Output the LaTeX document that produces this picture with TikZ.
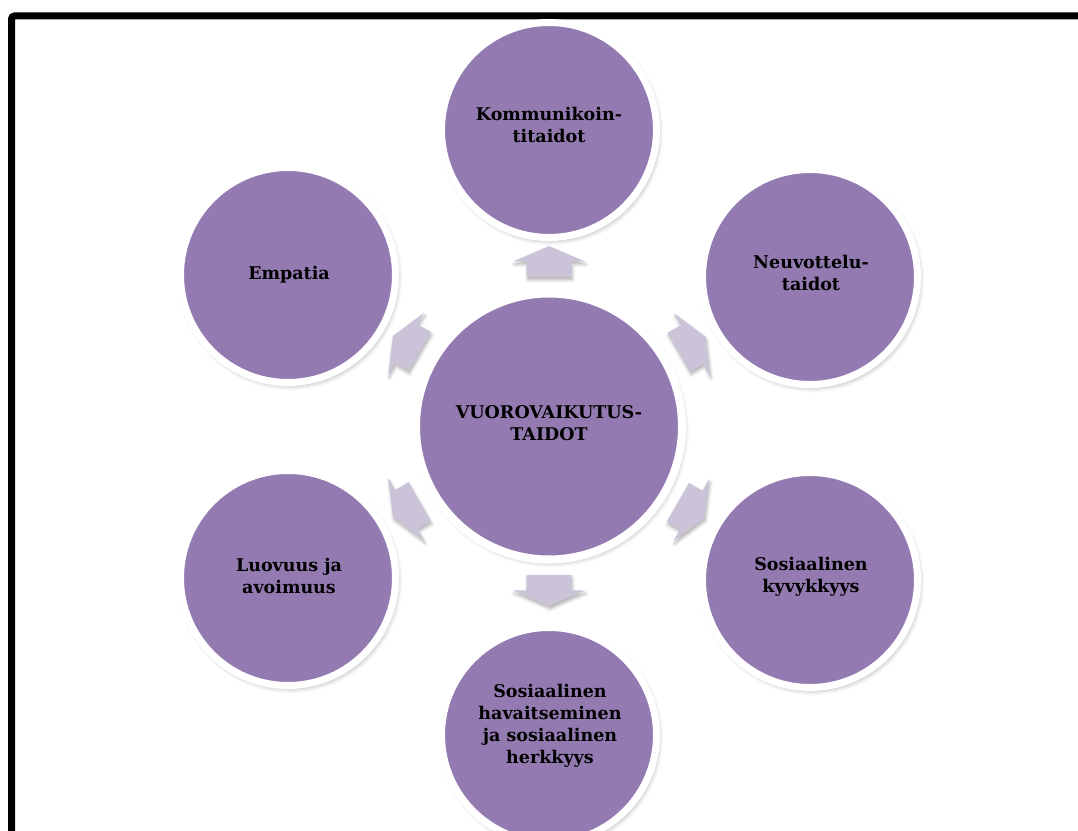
\documentclass[tikz,border=0pt]{standalone}
\usepackage{fontspec}
\setmainfont{DejaVu Serif}
\usetikzlibrary{shadows.blur,calc,backgrounds}
\definecolor{circfill}{HTML}{937AB1}
\definecolor{arrfill}{HTML}{CBC4D9}
\tikzset{
  ring/.style={circle, draw=white, line width=7pt, fill=circfill, inner sep=0pt,
    minimum size=215pt,
    blur shadow={shadow xshift=2pt, shadow yshift=-3pt, shadow blur radius=5pt, shadow opacity=35}},
  bigring/.style={ring, line width=8pt, minimum size=266pt},
  lbl/.style={align=center, font=\fontsize{17.5}{22}\selectfont\bfseries, text=black},
  pics/blockarrow/.style={code={
    \fill[arrfill, blur shadow={shadow xshift=1pt, shadow yshift=-3pt, shadow blur radius=3pt, shadow opacity=30}]
      (-22.5,-15.5) -- (22.5,-15.5) -- (22.5,0) -- (36,0) -- (0,15.5) -- (-36,0) -- (-22.5,0) -- cycle;}}
}
\begin{document}
\begin{tikzpicture}[x=1pt,y=1pt]
\useasboundingbox (0,0) rectangle (1078,830);
\clip (0,0) rectangle (1078,830);
\draw[line width=7pt, rounded corners=3pt] (11.5,814) rectangle (1110,-30);

\node[bigring] (c)  at (549,403.5) {};
\node[ring] (n1) at (549,700) {};
\node[ring] (n2) at (810,553) {};
\node[ring] (n3) at (810,250) {};
\node[ring] (n4) at (549,95) {};
\node[ring] (n5) at (288,252) {};
\node[ring] (n6) at (288,555) {};

\begin{scope}[on background layer]
\pic[rotate=0]    at ($(c)!165pt!(n1)$) {blockarrow};
\pic[rotate=-60]  at ($(c)!165pt!(n2)$) {blockarrow};
\pic[rotate=-120] at ($(c)!165pt!(n3)$) {blockarrow};
\pic[rotate=180]  at ($(c)!164pt!(n4)$) {blockarrow};
\pic[rotate=120]  at ($(c)!165pt!(n5)$) {blockarrow};
\pic[rotate=60]   at ($(c)!165pt!(n6)$) {blockarrow};
\end{scope}

\node[lbl] (t0) at ($(c)+(0,3)$) {VUOROVAIKUTUS-\\TAIDOT};
\node[lbl] (t1) at ($(n1)+(0,5)$) {Kommunikoin-\\titaidot};
\node[lbl] (t2) at ($(n2)+(1,4)$) {Neuvottelu-\\taidot};
\node[lbl] (t3) at ($(n3)+(1,3)$) {Sosiaalinen\\kyvykkyys};
\node[lbl] (t4) at ($(n4)+(1,9)$) {Sosiaalinen\\havaitseminen\\ja sosiaalinen\\herkkyys};
\node[lbl] (t5) at ($(n5)+(1,2)$) {Luovuus ja\\avoimuus};
\node[lbl] (t6) at ($(n6)+(1,0)$) {Empatia};
\end{tikzpicture}
\end{document}
